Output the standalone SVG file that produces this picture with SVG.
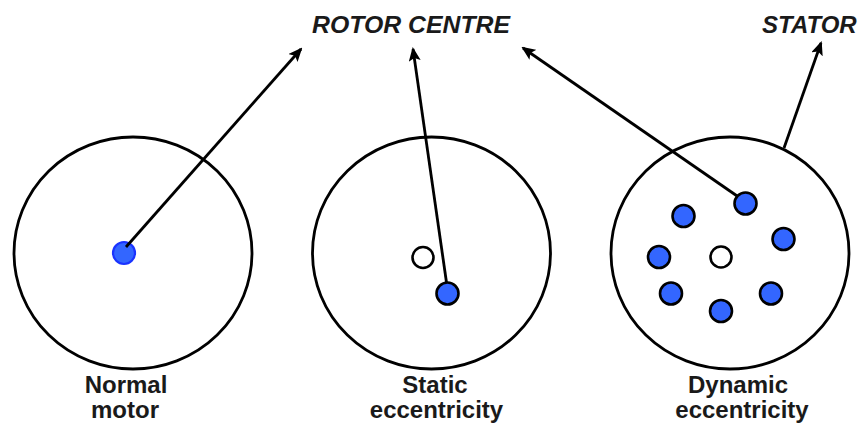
<svg xmlns="http://www.w3.org/2000/svg" width="864" height="428" viewBox="0 0 864 428">
<defs>
<marker id="ah" markerWidth="14" markerHeight="12" refX="12" refY="6" orient="auto" markerUnits="userSpaceOnUse" viewBox="0 0 14 12">
<path d="M0,0 L14,6 L0,12 L3,6 Z" fill="#000"/>
</marker>
<style>
.stator{fill:#fff;stroke:#000;stroke-width:2.8}
.rotor{fill:#3366ff;stroke:#000;stroke-width:2.6}
.centre{fill:#fff;stroke:#000;stroke-width:2.6}
.lbl{font-family:"Liberation Sans",Arial,sans-serif;font-weight:bold;font-size:24px;fill:#1a1a1a;text-anchor:middle}
.top{font-family:"Liberation Sans",Arial,sans-serif;font-weight:bold;font-style:italic;font-size:24px;fill:#1a1a1a}
.conn{stroke:#000;stroke-width:2.8;fill:none;marker-end:url(#ah)}
</style>
</defs>
<rect width="864" height="428" fill="#fff"/>
<g id="normal-motor">
<ellipse class="stator" cx="133" cy="253" rx="119" ry="116"/>
<circle cx="124" cy="253" r="11" fill="#3366ff" stroke="#1a33ff" stroke-width="2.2"/>
<text class="lbl" x="126" y="393">Normal</text>
<text class="lbl" x="125" y="418">motor</text>
</g>
<g id="static-eccentricity">
<ellipse class="stator" cx="431.5" cy="253" rx="119" ry="116"/>
<circle class="centre" cx="423" cy="257.5" r="10.5"/>
<text class="lbl" x="435" y="393">Static</text>
<text class="lbl" x="436.5" y="418">eccentricity</text>
</g>
<g id="dynamic-eccentricity">
<ellipse class="stator" cx="730" cy="253" rx="119" ry="116"/>
<circle class="centre" cx="721" cy="257" r="10.5"/>
<circle class="rotor" cx="683.5" cy="216" r="11"/>
<circle class="rotor" cx="783.5" cy="239" r="11"/>
<circle class="rotor" cx="659" cy="257" r="11"/>
<circle class="rotor" cx="671" cy="293.5" r="11"/>
<circle class="rotor" cx="771" cy="293.5" r="11"/>
<circle class="rotor" cx="721" cy="311" r="11"/>
<text class="lbl" x="738" y="393">Dynamic</text>
<text class="lbl" x="742" y="418">eccentricity</text>
</g>
<g id="rotor-centre-label">
<text class="top" x="312" y="33" textLength="198" lengthAdjust="spacingAndGlyphs">ROTOR CENTRE</text>
</g>
<g id="stator-label">
<text class="top" x="762" y="33">STATOR</text>
</g>
<g id="connectors">
<line class="conn" x1="126" y1="247" x2="301" y2="49"/>
<line class="conn" x1="447" y1="286" x2="413" y2="49"/>
<line class="conn" x1="740" y1="198" x2="523" y2="48"/>
<line class="conn" x1="784" y1="148" x2="821" y2="43"/>
</g>
<g id="static-rotor">
<circle class="rotor" cx="447.5" cy="293.5" r="11"/>
</g>
<g id="dynamic-rotor-top">
<circle class="rotor" cx="745.5" cy="203.5" r="11"/>
</g>
</svg>
